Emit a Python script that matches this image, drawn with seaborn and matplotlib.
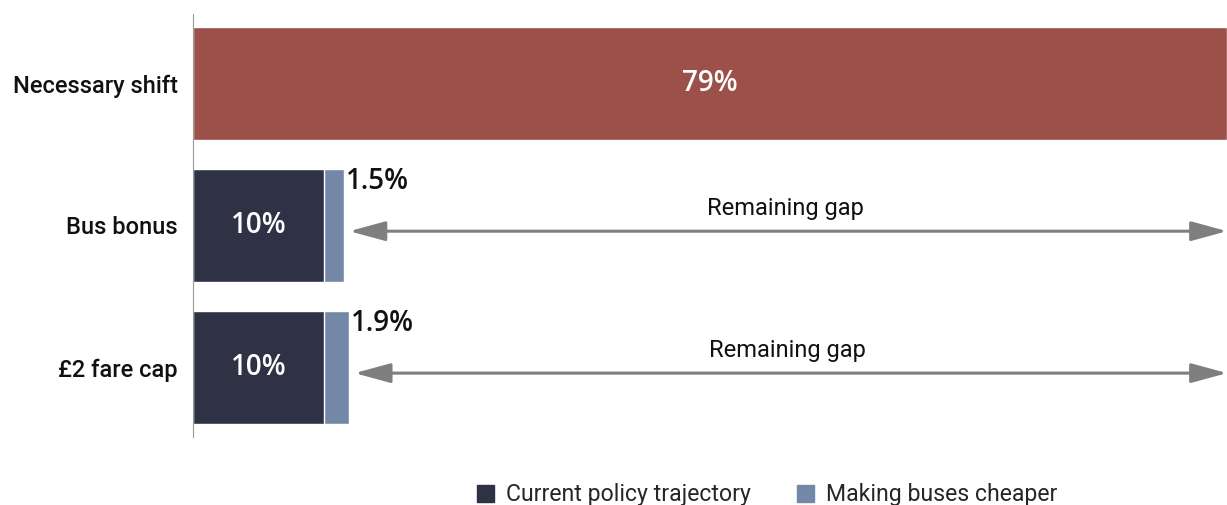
import matplotlib
matplotlib.use("Agg")
import matplotlib.pyplot as plt
import seaborn as sns
import pandas as pd
from matplotlib.patches import Patch

categories = ["Necessary shift", "Bus bonus", "£2 fare cap"]
current_policy = [0, 10, 10]
making_cheaper = [0, 1.5, 1.9]
necessary_shift = 79
value_labels = ["79%", "10%", "10%"]
extra_labels = ["", "1.5%", "1.9%"]

red = "#9b5049"
dark = "#2f3245"
light = "#7388a6"
grey = "#7f7f7f"

sns.set_style("white")
plt.rcParams["font.family"] = ["Roboto", "DejaVu Sans"]

# totals drawn first, the policy layer goes on top of it
totals = [necessary_shift] + [c + m for c, m in zip(current_policy[1:], making_cheaper[1:])]
df_tot = pd.DataFrame({"cat": categories, "val": totals})
df_cur = pd.DataFrame({"cat": categories[1:], "val": current_policy[1:]})

fig = plt.figure(figsize=(12.27, 5.05), dpi=100)
ax = fig.add_axes([193 / 1227, 1 - 437 / 505, 1 - 193 / 1227, (437 - 14) / 505])

sns.barplot(data=df_tot, x="val", y="cat", hue="cat", order=categories,
            palette=[red, light, light], legend=False, width=0.8, ax=ax,
            orient="h", saturation=1)
sns.barplot(data=df_cur, x="val", y="cat", order=categories, color=dark,
            width=0.8, ax=ax, orient="h", saturation=1)

ax.set_xlim(0, necessary_shift)
ax.set_ylim(2.49, -0.49)
ax.set_xlabel("")
ax.set_ylabel("")
ax.set_xticks([])
for s in ["top", "right", "bottom"]:
    ax.spines[s].set_visible(False)
ax.spines["left"].set_color("#999999")
ax.spines["left"].set_linewidth(0.8)
ax.tick_params(axis="y", length=0, pad=11)
for t in ax.get_yticklabels():
    t.set_fontsize(17)
    t.set_fontweight("medium")
    t.set_color("#111111")

val_font = dict(fontsize=20, family=["Open Sans", "DejaVu Sans"], fontweight="semibold")

# labels inside bars
ax.text(necessary_shift / 2, 0, value_labels[0], ha="center", va="center",
        color="white", **val_font)
for i in (1, 2):
    ax.text(current_policy[i] / 2, i, value_labels[i], ha="center", va="center",
            color="white", **val_font)
    end = totals[i]
    ax.text(end + 0.2, i - 0.31, extra_labels[i], ha="left", va="center",
            color="#111111", **val_font)
    # remaining gap arrow
    ax.annotate("", xy=(necessary_shift, i + 0.04), xytext=(end + 0.45, i + 0.04),
                arrowprops=dict(arrowstyle="<|-|>,head_length=0.55,head_width=0.15",
                                color=grey, lw=2.2, mutation_scale=40,
                                shrinkA=0, shrinkB=0),
                annotation_clip=False)
    ax.text((end + necessary_shift) / 2, i - 0.12, "Remaining gap", ha="center",
            va="center", fontsize=17, color="#111111")

handles = [Patch(color=dark, label="Current policy trajectory"),
           Patch(color=light, label="Making buses cheaper")]
fig.legend(handles=handles, loc="center", bbox_to_anchor=(0.625, 0.02),
           ncol=2, frameon=False, fontsize=16.6, handlelength=0.75,
           handleheight=0.75, handletextpad=0.5, columnspacing=2.0)

fig.savefig("out.png", dpi=100)
